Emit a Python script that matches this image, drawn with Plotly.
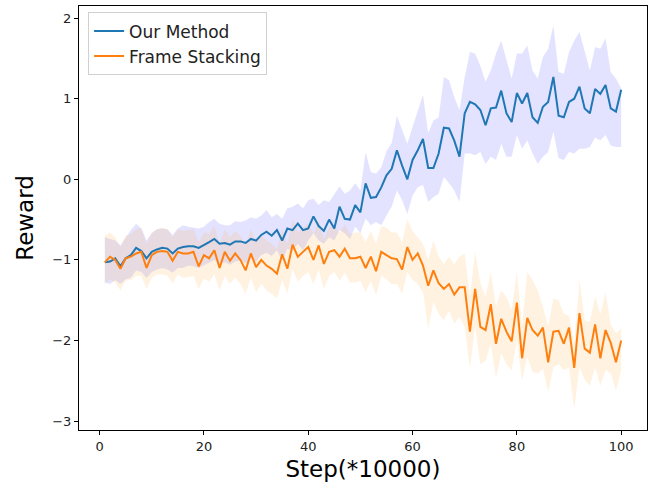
import plotly.graph_objects as go

steps = list(range(1, 101))

ours_mean = [
    -1.03, -1.02, -0.98, -1.08, -0.98, -0.94, -0.85, -0.89, -0.98, -0.90,
    -0.87, -0.85, -0.86, -0.92, -0.86, -0.84, -0.83, -0.83, -0.85, -0.82,
    -0.78, -0.74, -0.80, -0.79, -0.81, -0.77, -0.77, -0.79, -0.74, -0.76,
    -0.69, -0.65, -0.70, -0.63, -0.76, -0.61, -0.63, -0.55, -0.63, -0.61,
    -0.46, -0.58, -0.64, -0.50, -0.61, -0.34, -0.49, -0.50, -0.32, -0.41,
    -0.05, -0.23, -0.22, -0.10, 0.05, 0.13, 0.36, 0.17, 0.00, 0.24,
    0.36, 0.50, 0.14, 0.14, 0.32, 0.64, 0.63, 0.48, 0.28, 0.82,
    0.96, 0.93, 0.86, 0.67, 0.88, 0.89, 1.10, 0.82, 0.71, 1.07,
    0.94, 1.07, 0.77, 0.70, 0.90, 0.96, 1.27, 0.79, 0.77, 0.96,
    1.00, 1.15, 0.88, 0.82, 1.12, 1.06, 1.17, 0.88, 0.84, 1.11,
]
ours_upper = [
    -0.72, -0.74, -0.76, -0.82, -0.72, -0.63, -0.55, -0.61, -0.76, -0.67,
    -0.62, -0.61, -0.62, -0.69, -0.61, -0.57, -0.59, -0.60, -0.61, -0.59,
    -0.53, -0.49, -0.55, -0.57, -0.57, -0.52, -0.53, -0.51, -0.47, -0.49,
    -0.45, -0.38, -0.47, -0.43, -0.49, -0.36, -0.34, -0.30, -0.36, -0.26,
    -0.24, -0.32, -0.26, -0.28, -0.18, -0.09, -0.18, -0.14, -0.05, -0.14,
    0.34, 0.09, 0.07, 0.15, 0.35, 0.45, 0.79, 0.61, 0.44, 0.65,
    0.85, 1.05, 0.57, 0.73, 0.77, 1.27, 1.23, 1.02, 0.86, 1.27,
    1.58, 1.56, 1.41, 1.21, 1.35, 1.56, 1.72, 1.48, 1.25, 1.56,
    1.56, 1.66, 1.35, 1.25, 1.52, 1.62, 1.91, 1.33, 1.31, 1.58,
    1.72, 1.83, 1.60, 1.35, 1.64, 1.62, 1.75, 1.33, 1.25, 1.13,
]
ours_lower = [
    -1.28, -1.30, -1.25, -1.30, -1.24, -1.22, -1.13, -1.15, -1.22, -1.15,
    -1.12, -1.10, -1.12, -1.16, -1.10, -1.10, -1.07, -1.08, -1.10, -1.07,
    -1.03, -1.00, -1.05, -1.03, -1.06, -1.02, -1.01, -1.04, -0.99, -1.02,
    -0.94, -0.91, -0.95, -0.88, -1.01, -0.86, -0.89, -0.80, -0.88, -0.76,
    -0.67, -0.76, -0.80, -0.72, -0.76, -0.63, -0.67, -0.74, -0.59, -0.67,
    -0.49, -0.57, -0.53, -0.57, -0.45, -0.34, -0.14, -0.26, -0.43, -0.20,
    -0.10, -0.07, -0.28, -0.22, -0.18, 0.03, -0.05, -0.14, -0.28, 0.32,
    0.32, 0.30, 0.34, 0.19, 0.28, 0.24, 0.44, 0.28, 0.28, 0.55,
    0.38, 0.48, 0.32, 0.19, 0.28, 0.34, 0.59, 0.26, 0.24, 0.34,
    0.32, 0.38, 0.38, 0.40, 0.52, 0.48, 0.55, 0.42, 0.40, 0.40,
]

fs_mean = [
    -1.03, -0.96, -1.00, -1.11, -0.98, -0.96, -0.92, -0.90, -1.10, -0.94,
    -0.90, -0.89, -0.90, -1.01, -0.90, -0.92, -0.92, -0.90, -1.08, -0.94,
    -0.98, -0.88, -1.10, -0.90, -1.01, -0.92, -1.00, -1.13, -0.92, -1.09,
    -1.00, -1.07, -1.11, -1.17, -0.93, -1.11, -0.81, -0.96, -0.90, -0.84,
    -1.00, -0.82, -1.05, -0.90, -0.88, -0.96, -0.86, -0.98, -0.98, -0.96,
    -1.10, -0.96, -1.14, -0.90, -0.94, -0.98, -0.99, -1.12, -0.84, -1.00,
    -0.92, -1.07, -1.32, -1.13, -1.29, -1.36, -1.30, -1.43, -1.34, -1.34,
    -1.89, -1.36, -1.83, -1.87, -1.55, -2.04, -1.73, -1.89, -2.01, -1.53,
    -2.22, -1.72, -1.87, -1.94, -1.84, -2.27, -1.89, -1.88, -2.04, -1.84,
    -2.34, -1.66, -2.10, -2.15, -1.80, -2.22, -1.87, -2.03, -2.27, -2.00,
]
fs_upper = [
    -0.70, -0.66, -0.72, -0.84, -0.70, -0.68, -0.62, -0.60, -0.80, -0.66,
    -0.62, -0.60, -0.62, -0.72, -0.62, -0.64, -0.63, -0.62, -0.78, -0.66,
    -0.68, -0.58, -0.80, -0.62, -0.72, -0.64, -0.70, -0.82, -0.62, -0.78,
    -0.70, -0.76, -0.80, -0.86, -0.62, -0.80, -0.50, -0.66, -0.60, -0.55,
    -0.68, -0.52, -0.74, -0.60, -0.58, -0.66, -0.56, -0.68, -0.66, -0.66,
    -0.78, -0.64, -0.80, -0.58, -0.60, -0.66, -0.66, -0.78, -0.50, -0.64,
    -0.72, -0.80, -1.00, -0.76, -0.96, -1.05, -0.96, -1.05, -0.96, -0.92,
    -1.46, -0.90, -1.29, -1.46, -1.15, -1.58, -1.38, -1.46, -1.62, -1.15,
    -1.83, -1.15, -1.25, -1.38, -1.58, -1.83, -1.48, -1.50, -1.67, -1.69,
    -2.04, -1.25, -1.75, -1.77, -1.45, -1.67, -1.40, -1.80, -1.91, -1.85,
]
fs_lower = [
    -1.30, -1.24, -1.28, -1.38, -1.26, -1.25, -1.20, -1.20, -1.36, -1.22,
    -1.18, -1.18, -1.19, -1.29, -1.18, -1.22, -1.21, -1.20, -1.36, -1.23,
    -1.27, -1.18, -1.38, -1.20, -1.30, -1.22, -1.30, -1.42, -1.22, -1.40,
    -1.30, -1.38, -1.42, -1.48, -1.25, -1.42, -1.12, -1.27, -1.20, -1.15,
    -1.30, -1.12, -1.36, -1.20, -1.15, -1.26, -1.16, -1.28, -1.28, -1.26,
    -1.40, -1.26, -1.44, -1.20, -1.24, -1.30, -1.30, -1.42, -1.15, -1.25,
    -1.30, -1.40, -1.85, -1.52, -1.67, -1.75, -1.63, -1.79, -1.71, -1.83,
    -2.35, -1.83, -2.29, -2.25, -2.04, -2.47, -2.16, -2.29, -2.37, -2.00,
    -2.49, -2.20, -2.39, -2.41, -2.35, -2.64, -2.33, -2.29, -2.37, -2.33,
    -2.85, -2.33, -2.49, -2.56, -2.33, -2.56, -2.37, -2.41, -2.62, -2.37,
]

BLUE = "#1f77b4"
ORANGE = "#ff7f0e"

fig = go.Figure()

# shaded bands
fig.add_trace(go.Scatter(x=steps, y=ours_upper, mode="lines", line=dict(width=0),
                         showlegend=False, hoverinfo="skip"))
fig.add_trace(go.Scatter(x=steps, y=ours_lower, mode="lines", line=dict(width=0),
                         fill="tonexty", fillcolor="rgba(0,0,255,0.11)",
                         showlegend=False, hoverinfo="skip"))
fig.add_trace(go.Scatter(x=steps, y=fs_upper, mode="lines", line=dict(width=0),
                         showlegend=False, hoverinfo="skip"))
fig.add_trace(go.Scatter(x=steps, y=fs_lower, mode="lines", line=dict(width=0),
                         fill="tonexty", fillcolor="rgba(255,160,40,0.14)",
                         showlegend=False, hoverinfo="skip"))

# mean lines
fig.add_trace(go.Scatter(x=steps, y=ours_mean, mode="lines", name="Our Method",
                         line=dict(color=BLUE, width=2)))
fig.add_trace(go.Scatter(x=steps, y=fs_mean, mode="lines", name="Frame Stacking",
                         line=dict(color=ORANGE, width=2)))

font_family = "DejaVu Sans"

fig.update_layout(
    width=666, height=489,
    margin=dict(l=79, r=19, t=6, b=59),
    paper_bgcolor="white", plot_bgcolor="white",
    font=dict(family=font_family, color="black", size=13),
    showlegend=True,
    legend=dict(x=0.016, y=0.985, xanchor="left", yanchor="top",
                traceorder="normal",
                bgcolor="rgba(255,255,255,0.8)", bordercolor="#d0d0d0", borderwidth=1,
                font=dict(family=font_family, size=17, color="#222222"),
                tracegroupgap=0, itemwidth=30),
)

fig.update_xaxes(
    range=[-3.95, 104.95], tickmode="array", tickvals=[0, 20, 40, 60, 80, 100],
    showgrid=False, zeroline=False, showline=True, linecolor="black", linewidth=1,
    mirror=True, ticks="outside", ticklen=4, tickcolor="black",
    tickfont=dict(size=13, family=font_family, color="#222222"),
    title=dict(text="Step(*10000)", font=dict(size=23, family=font_family, color="black"),
               standoff=8),
)
fig.update_yaxes(
    range=[-3.11, 2.15], tickmode="array", tickvals=[-3, -2, -1, 0, 1, 2],
    showgrid=False, zeroline=False, showline=True, linecolor="black", linewidth=1,
    mirror=True, ticks="outside", ticklen=4, tickcolor="black",
    tickfont=dict(size=13, family=font_family, color="#222222"),
    title=dict(text="Reward", font=dict(size=23, family=font_family, color="black"),
               standoff=12),
)

fig.write_html("out.html")
